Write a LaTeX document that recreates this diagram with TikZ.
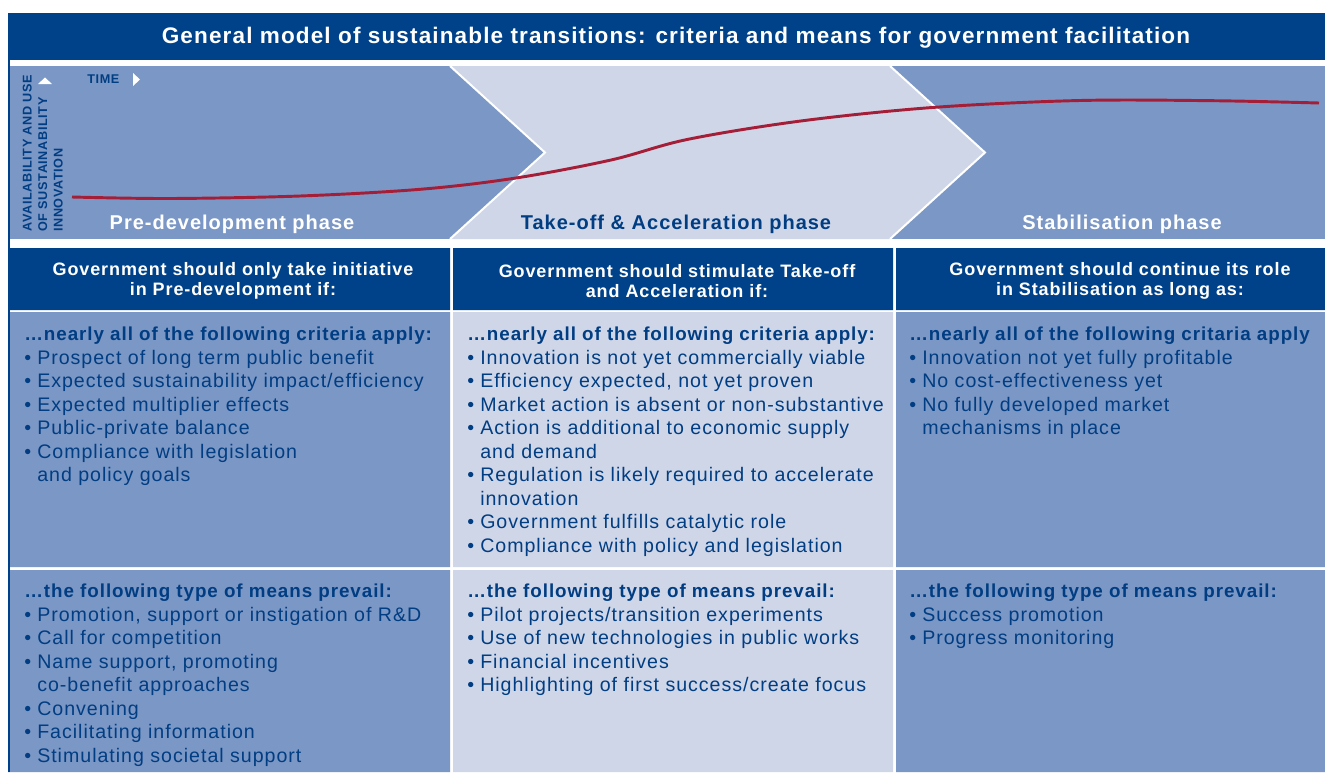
\documentclass[tikz,border=0pt]{standalone}
\usepackage{fontspec}
\setmainfont{Liberation Sans}[LetterSpace=5]

\definecolor{govdark}{HTML}{00428A}
\definecolor{govmid}{HTML}{7B97C5}
\definecolor{govlight}{HTML}{CFD6E8}
\definecolor{govred}{HTML}{A51E37}
\definecolor{govtext}{HTML}{003D82}

% bullet and indent for the criteria lists
\newcommand\bul{\makebox[9.75pt][l]{\textbullet}}
\newcommand\cont{\hspace*{9.75pt}}
\newcommand\lead[1]{{\fontsize{14.1}{17.6}\selectfont\bfseries #1}}

\begin{document}
\begin{tikzpicture}[x=0.75pt,y=-0.75pt,
    every node/.style={inner sep=0pt},
    hdr/.style={text=white,align=center,font=\fontsize{13.5}{15}\selectfont\bfseries},
    cell/.style={anchor=north west,align=left,text=govtext,font=\fontsize{14.7}{17.6}\selectfont},
    phase/.style={font=\fontsize{15}{18}\selectfont\bfseries},
    axis/.style={text=govtext,font=\fontsize{9.5}{11.6}\selectfont\bfseries}]

\useasboundingbox (0,0) rectangle (1325,772);

% title bar and phase band
\fill[govdark] (8,13) rectangle (1325,60);
\fill[govmid] (8,66) rectangle (1325,239);
\fill[govlight] (450,66) -- (890,66) -- (985,152.5) -- (890,239) -- (450,239) -- (545,152.5) -- cycle;
\draw[white,line width=1.5pt] (450,66) -- (545,152.5) -- (450,239)
                              (890,66) -- (985,152.5) -- (890,239);

% table cells
\fill[govdark] (8,248) rectangle (450,310) (453,248) rectangle (893,310) (896,248) rectangle (1325,310);
\fill[govmid] (8,312) rectangle (450,567) (8,570) rectangle (450,772);
\fill[govlight] (453,312) rectangle (893,567) (453,570) rectangle (893,772);
\fill[govmid] (896,312) rectangle (1325,567) (896,570) rectangle (1325,772);
\draw[govdark,line width=1.5pt] (8.5,13) -- (8.5,772);

% innovation curve
\draw[govred,line width=2.2pt] plot[smooth,tension=0.55] coordinates {(72,197) (170,198.5) (300,196)
  (420,189.3) (514,178.3) (611,160) (688,139.3) (803,120.7) (935,107.3) (1080,100.5)
  (1213,100.7) (1319,103)};

% axes
\fill[white] (38,84) -- (45,77.5) -- (52,84) -- cycle;
\fill[white] (133,73) -- (140,79.5) -- (133,86) -- cycle;
\node[axis,rotate=90,anchor=north west,align=left] (yaxis) at (22.5,232) {AVAILABILITY AND USE\\OF SUSTAINABILITY\\INNOVATION};
\node[axis,anchor=west] (xaxis) at (87,79) {TIME};

\node[font=\fontsize{16.9}{19}\selectfont\bfseries,text=white] (title) at (676,38)
  {General model of sustainable transitions: criteria and means for government facilitation};

\node[phase,text=white] (pre) at (232,224) {Pre-development phase};
\node[phase,text=govtext] (take) at (676,224) {Take-off \& Acceleration phase};
\node[phase,text=white] (stab) at (1122,224) {Stabilisation phase};

\node[hdr] (hpre) at (233,281) {Government should only take initiative\\in Pre-development if:};
\node[hdr] (htake) at (677,281) {Government should stimulate Take-off\\and Acceleration if:};
\node[hdr] (hstab) at (1120,281) {Government should continue its role\\in Stabilisation as long as:};

% criteria row
\node[cell] (cpre) at (24,327) {\lead{…nearly all of the following criteria apply:}\\
  \bul Prospect of long term public benefit\\
  \bul Expected sustainability impact/efficiency\\
  \bul Expected multiplier effects\\
  \bul Public-private balance\\
  \bul Compliance with legislation\\
  \cont and policy goals};
\node[cell] (ctake) at (467,327) {\lead{…nearly all of the following criteria apply:}\\
  \bul Innovation is not yet commercially viable\\
  \bul Efficiency expected, not yet proven\\
  \bul Market action is absent or non-substantive\\
  \bul Action is additional to economic supply\\
  \cont and demand\\
  \bul Regulation is likely required to accelerate\\
  \cont innovation\\
  \bul Government fulfills catalytic role\\
  \bul Compliance with policy and legislation};
\node[cell] (cstab) at (909,327) {\lead{…nearly all of the following critaria apply}\\
  \bul Innovation not yet fully profitable\\
  \bul No cost-effectiveness yet\\
  \bul No fully developed market\\
  \cont mechanisms in place};

% means row
\node[cell] (mpre) at (24,584) {\lead{…the following type of means prevail:}\\
  \bul Promotion, support or instigation of R\&D\\
  \bul Call for competition\\
  \bul Name support, promoting\\
  \cont co-benefit approaches\\
  \bul Convening\\
  \bul Facilitating information\\
  \bul Stimulating societal support};
\node[cell] (mtake) at (467,584) {\lead{…the following type of means prevail:}\\
  \bul Pilot projects/transition experiments\\
  \bul Use of new technologies in public works\\
  \bul Financial incentives\\
  \bul Highlighting of first success/create focus};
\node[cell] (mstab) at (909,584) {\lead{…the following type of means prevail:}\\
  \bul Success promotion\\
  \bul Progress monitoring};
\end{tikzpicture}
\end{document}
